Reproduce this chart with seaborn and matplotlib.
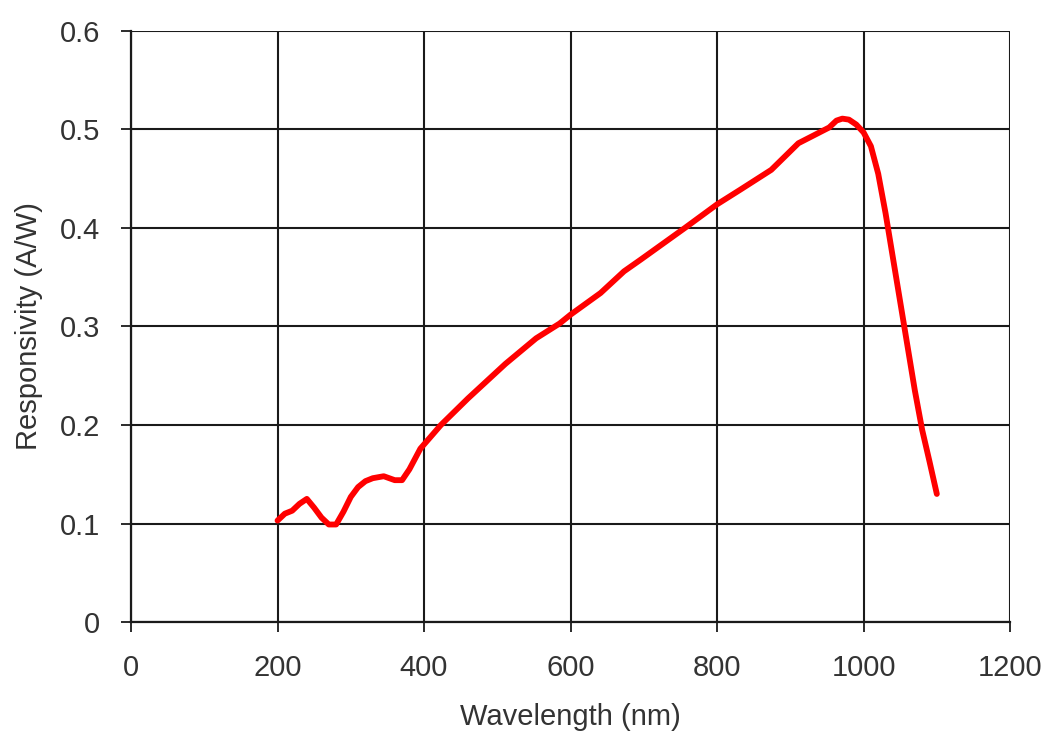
import matplotlib
matplotlib.use("Agg")
import matplotlib.pyplot as plt
import seaborn as sns
import pandas as pd

wavelength = [200, 210, 220, 230, 240, 250, 260, 270, 280, 290, 300, 310, 320, 330, 345,
              360, 370, 380, 395, 423, 460, 511, 553, 585, 600, 641, 673, 696, 726, 756,
              800, 832, 874, 911, 953, 963, 971, 980, 990, 1000, 1010, 1020, 1030, 1040,
              1050, 1060, 1070, 1080, 1090, 1100]
responsivity = [0.103, 0.110, 0.113, 0.120, 0.125, 0.116, 0.106, 0.099, 0.099, 0.112, 0.127,
                0.137, 0.143, 0.146, 0.148, 0.144, 0.144, 0.155, 0.176, 0.200, 0.227, 0.262,
                0.288, 0.303, 0.312, 0.334, 0.356, 0.368, 0.384, 0.400, 0.424, 0.439, 0.459,
                0.486, 0.502, 0.509, 0.511, 0.510, 0.505, 0.497, 0.483, 0.455, 0.415, 0.370,
                0.325, 0.280, 0.235, 0.195, 0.163, 0.130]
x_ticks = [0, 200, 400, 600, 800, 1000, 1200]
y_ticks = [0, 0.1, 0.2, 0.3, 0.4, 0.5, 0.6]
y_tick_labels = ["0", "0.1", "0.2", "0.3", "0.4", "0.5", "0.6"]

df = pd.DataFrame({"Wavelength (nm)": wavelength, "Responsivity (A/W)": responsivity})

sns.set_style("white")
plt.rcParams['font.family'] = ['Liberation Sans', 'DejaVu Sans']

fig = plt.figure(figsize=(10.49, 7.37), dpi=100)
ax = fig.add_axes([0.1249, 0.156, 0.838, 0.802])
sns.lineplot(data=df, x="Wavelength (nm)", y="Responsivity (A/W)", ax=ax,
             color="#ff0000", linewidth=4.2, zorder=3)

ax.set_xlim(0, 1200)
ax.set_ylim(0, 0.6)
ax.set_xticks(x_ticks)
ax.set_xticklabels([str(t) for t in x_ticks])
ax.set_yticks(y_ticks)
ax.set_yticklabels(y_tick_labels)
ax.grid(True, color="#1a1a1a", linewidth=1.5)
ax.set_axisbelow(True)
for side in ["top", "right"]:
    ax.spines[side].set_visible(False)
for side in ["left", "bottom"]:
    ax.spines[side].set_color("#1a1a1a")
    ax.spines[side].set_linewidth(1.6)
ax.tick_params(axis="both", which="major", direction="out", length=7, width=1.3,
               color="#1a1a1a", labelsize=21, labelcolor="#333333",
               left=True, bottom=True)
ax.tick_params(axis="x", pad=16)
ax.tick_params(axis="y", pad=15)
ax.set_xlabel("Wavelength (nm)", fontsize=21, color="#333333", labelpad=15)
ax.set_ylabel("Responsivity (A/W)", fontsize=21, color="#333333", labelpad=12)

fig.savefig("out.png", dpi=100, facecolor="white")
